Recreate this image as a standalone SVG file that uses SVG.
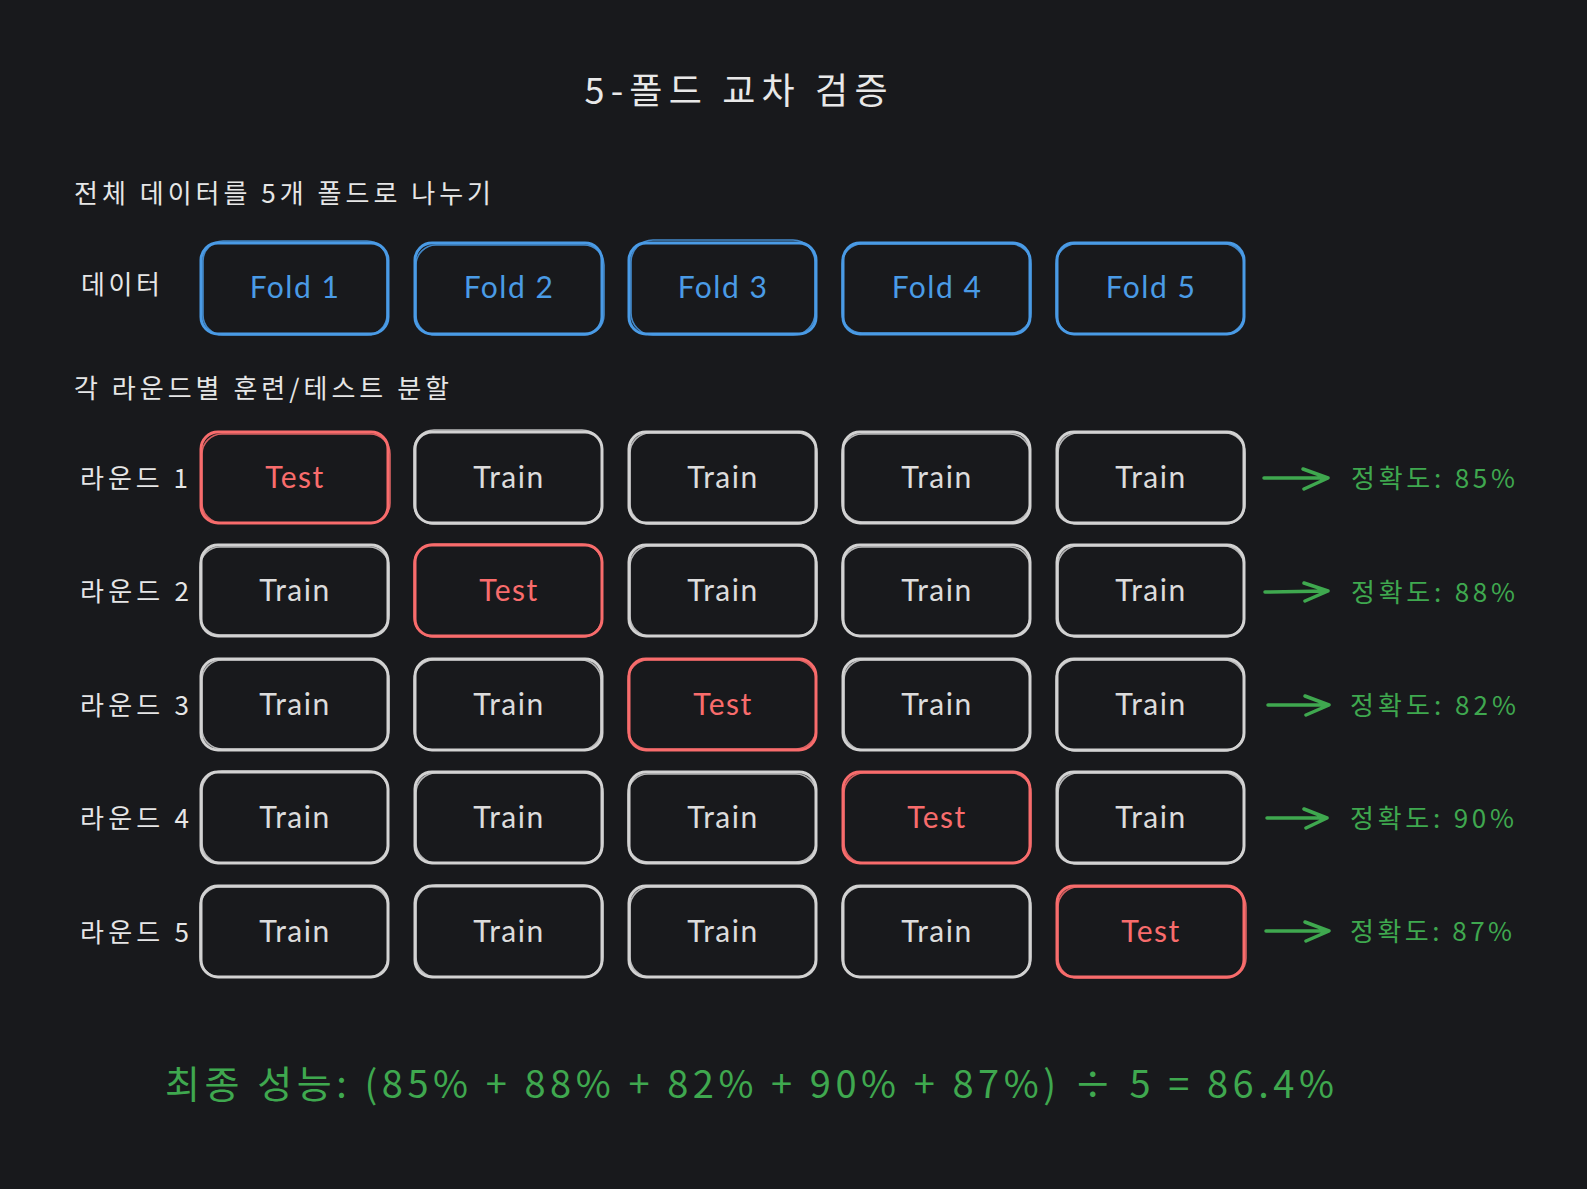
<svg xmlns="http://www.w3.org/2000/svg" width="1587" height="1189" viewBox="0 0 1587 1189">
<style>
.bg{fill:#18191c}
.t{font-family:"Noto Sans CJK KR","Noto Sans",sans-serif;dominant-baseline:central}
.w{fill:#e8e8e8}
.lbl{font-size:26px;fill:#e6e6e6}
.box{fill:none;stroke-width:3;stroke-linecap:round}
.box2{fill:none;stroke-width:1.6;opacity:.85}
.blue{stroke:#4a9be6}
.red{stroke:#f86c6c}
.gray{stroke:#d2d2d2}
.bt{font-family:"Lato","Noto Sans",sans-serif;font-size:30px;letter-spacing:1.5px;text-anchor:middle;dominant-baseline:central}
.tb{fill:#4a9be6}
.tr{fill:#f86c6c}
.tg{fill:#dcdcdc}
.green{fill:#3fa84f}
.arr{fill:none;stroke:#3fa84f;stroke-width:3.5;stroke-linecap:round;stroke-linejoin:round}
</style>
<rect class="bg" x="0" y="0" width="1587" height="1189"/>

<g id="title"><text class="t w" x="736" y="88" font-size="36" text-anchor="middle" textLength="303" lengthAdjust="spacing">5-폴드 교차 검증</text></g>
<g id="subtitle1"><text class="t lbl" x="74" y="191" textLength="417" lengthAdjust="spacing">전체 데이터를 5개 폴드로 나누기</text></g>
<g id="label-data"><text class="t lbl" x="81" y="282" textLength="79" lengthAdjust="spacing">데이터</text></g>
<g id="subtitle2"><text class="t lbl" x="74" y="386" textLength="375" lengthAdjust="spacing">각 라운드별 훈련/테스트 분할</text></g>

<g id="round-labels">
<text class="t lbl" x="80" y="476" textLength="108" lengthAdjust="spacing">라운드 1</text>
<text class="t lbl" x="80" y="589" textLength="109" lengthAdjust="spacing">라운드 2</text>
<text class="t lbl" x="80" y="703" textLength="109" lengthAdjust="spacing">라운드 3</text>
<text class="t lbl" x="80" y="816" textLength="109" lengthAdjust="spacing">라운드 4</text>
<text class="t lbl" x="80" y="930" textLength="109" lengthAdjust="spacing">라운드 5</text>
</g>

<!-- Data row -->
<g id="fold1"><rect class="box blue" x="201" y="243" width="187" height="91" rx="17"/><rect class="box2 blue" x="203" y="241" width="184" height="94" rx="20"/><text class="bt tb" x="295" y="286">Fold 1</text></g>
<g id="fold2"><rect class="box blue" x="415" y="243" width="187" height="91" rx="17"/><rect class="box2 blue" x="416" y="245" width="188" height="90" rx="20"/><text class="bt tb" x="509" y="286">Fold 2</text></g>
<g id="fold3"><rect class="box blue" x="629" y="243" width="187" height="91" rx="17"/><rect class="box2 blue" x="631" y="240" width="184" height="95" rx="22"/><text class="bt tb" x="723" y="286">Fold 3</text></g>
<g id="fold4"><rect class="box blue" x="843" y="243" width="187" height="91" rx="17"/><rect class="box2 blue" x="842" y="244" width="189" height="89" rx="20"/><text class="bt tb" x="937" y="286">Fold 4</text></g>
<g id="fold5"><rect class="box blue" x="1057" y="243" width="187" height="91" rx="17"/><rect class="box2 blue" x="1056" y="244" width="188" height="90" rx="20"/><text class="bt tb" x="1151" y="286">Fold 5</text></g>

<!-- Round 1 -->
<g id="r1c1"><rect class="box red" x="201" y="432" width="187" height="91" rx="17"/><rect class="box2 red" x="202" y="434" width="188" height="89" rx="20"/><text class="bt tr" x="295" y="476">Test</text></g>
<g id="r1c2"><rect class="box gray" x="415" y="432" width="187" height="91" rx="17"/><rect class="box2 gray" x="414" y="430" width="188" height="94" rx="20"/><text class="bt tg" x="509" y="476">Train</text></g>
<g id="r1c3"><rect class="box gray" x="629" y="432" width="187" height="91" rx="17"/><rect class="box2 gray" x="630" y="433" width="187" height="91" rx="20"/><text class="bt tg" x="723" y="476">Train</text></g>
<g id="r1c4"><rect class="box gray" x="843" y="432" width="187" height="91" rx="17"/><rect class="box2 gray" x="842" y="434" width="188" height="88" rx="20"/><text class="bt tg" x="937" y="476">Train</text></g>
<g id="r1c5"><rect class="box gray" x="1057" y="432" width="187" height="91" rx="17"/><rect class="box2 gray" x="1058" y="433" width="187" height="91" rx="20"/><text class="bt tg" x="1151" y="476">Train</text></g>

<!-- Round 2 -->
<g id="r2c1"><rect class="box gray" x="201" y="545" width="187" height="91" rx="17"/><rect class="box2 gray" x="200" y="547" width="189" height="88" rx="20"/><text class="bt tg" x="295" y="589">Train</text></g>
<g id="r2c2"><rect class="box red" x="415" y="545" width="187" height="91" rx="17"/><rect class="box2 red" x="414" y="544" width="188" height="93" rx="20"/><text class="bt tr" x="509" y="589">Test</text></g>
<g id="r2c3"><rect class="box gray" x="629" y="545" width="187" height="91" rx="17"/><rect class="box2 gray" x="630" y="546" width="187" height="90" rx="20"/><text class="bt tg" x="723" y="589">Train</text></g>
<g id="r2c4"><rect class="box gray" x="843" y="545" width="187" height="91" rx="17"/><rect class="box2 gray" x="842" y="547" width="188" height="89" rx="20"/><text class="bt tg" x="937" y="589">Train</text></g>
<g id="r2c5"><rect class="box gray" x="1057" y="545" width="187" height="91" rx="17"/><rect class="box2 gray" x="1058" y="546" width="186" height="91" rx="20"/><text class="bt tg" x="1151" y="589">Train</text></g>

<!-- Round 3 -->
<g id="r3c1"><rect class="box gray" x="201" y="659" width="187" height="91" rx="17"/><rect class="box2 gray" x="202" y="660" width="187" height="89" rx="20"/><text class="bt tg" x="295" y="703">Train</text></g>
<g id="r3c2"><rect class="box gray" x="415" y="659" width="187" height="91" rx="17"/><rect class="box2 gray" x="414" y="660" width="187" height="90" rx="20"/><text class="bt tg" x="509" y="703">Train</text></g>
<g id="r3c3"><rect class="box red" x="629" y="659" width="187" height="91" rx="17"/><rect class="box2 red" x="628" y="660" width="188" height="89" rx="20"/><text class="bt tr" x="723" y="703">Test</text></g>
<g id="r3c4"><rect class="box gray" x="843" y="659" width="187" height="91" rx="17"/><rect class="box2 gray" x="844" y="660" width="186" height="90" rx="20"/><text class="bt tg" x="937" y="703">Train</text></g>
<g id="r3c5"><rect class="box gray" x="1057" y="659" width="187" height="91" rx="17"/><rect class="box2 gray" x="1056" y="660" width="188" height="91" rx="20"/><text class="bt tg" x="1151" y="703">Train</text></g>

<!-- Round 4 -->
<g id="r4c1"><rect class="box gray" x="201" y="772" width="187" height="91" rx="17"/><rect class="box2 gray" x="202" y="771" width="186" height="92" rx="20"/><text class="bt tg" x="295" y="816">Train</text></g>
<g id="r4c2"><rect class="box gray" x="415" y="772" width="187" height="91" rx="17"/><rect class="box2 gray" x="416" y="773" width="187" height="90" rx="20"/><text class="bt tg" x="509" y="816">Train</text></g>
<g id="r4c3"><rect class="box gray" x="629" y="772" width="187" height="91" rx="17"/><rect class="box2 gray" x="628" y="774" width="188" height="88" rx="20"/><text class="bt tg" x="723" y="816">Train</text></g>
<g id="r4c4"><rect class="box red" x="843" y="772" width="187" height="91" rx="17"/><rect class="box2 red" x="844" y="773" width="187" height="90" rx="20"/><text class="bt tr" x="937" y="816">Test</text></g>
<g id="r4c5"><rect class="box gray" x="1057" y="772" width="187" height="91" rx="17"/><rect class="box2 gray" x="1058" y="773" width="186" height="91" rx="20"/><text class="bt tg" x="1151" y="816">Train</text></g>

<!-- Round 5 -->
<g id="r5c1"><rect class="box gray" x="201" y="886" width="187" height="91" rx="17"/><rect class="box2 gray" x="200" y="887" width="188" height="90" rx="20"/><text class="bt tg" x="295" y="930">Train</text></g>
<g id="r5c2"><rect class="box gray" x="415" y="886" width="187" height="91" rx="17"/><rect class="box2 gray" x="416" y="885" width="187" height="92" rx="20"/><text class="bt tg" x="509" y="930">Train</text></g>
<g id="r5c3"><rect class="box gray" x="629" y="886" width="187" height="91" rx="17"/><rect class="box2 gray" x="630" y="887" width="186" height="90" rx="20"/><text class="bt tg" x="723" y="930">Train</text></g>
<g id="r5c4"><rect class="box gray" x="843" y="886" width="187" height="91" rx="17"/><rect class="box2 gray" x="842" y="887" width="189" height="90" rx="20"/><text class="bt tg" x="937" y="930">Train</text></g>
<g id="r5c5"><rect class="box red" x="1057" y="886" width="187" height="91" rx="17"/><rect class="box2 red" x="1058" y="887" width="188" height="91" rx="20"/><text class="bt tr" x="1151" y="930">Test</text></g>

<!-- Connectors -->
<g id="connectors">
<path class="arr" d="M1264 478 L1327 478 M1303 469 L1328 478 L1304 489"/>
<path class="arr" d="M1265 592 L1327 591 M1304 583 L1328 591 L1305 601"/>
<path class="arr" d="M1268 705 L1328 705 M1305 696 L1329 705 L1306 715"/>
<path class="arr" d="M1267 818 L1326 818 M1304 809 L1327 818 L1306 828"/>
<path class="arr" d="M1266 931 L1328 931 M1305 922 L1329 931 L1306 941"/>
</g>

<g id="accuracy">
<text class="t green" x="1351" y="476" font-size="26" textLength="164" lengthAdjust="spacing">정확도: 85%</text>
<text class="t green" x="1351" y="590" font-size="26" textLength="164" lengthAdjust="spacing">정확도: 88%</text>
<text class="t green" x="1350" y="703" font-size="26" textLength="166" lengthAdjust="spacing">정확도: 82%</text>
<text class="t green" x="1350" y="816" font-size="26" textLength="164" lengthAdjust="spacing">정확도: 90%</text>
<text class="t green" x="1350" y="929" font-size="26" textLength="162" lengthAdjust="spacing">정확도: 87%</text>
</g>

<g id="final"><text class="t green" x="165" y="1081" font-size="38" textLength="1169" lengthAdjust="spacing">최종 성능: (85% + 88% + 82% + 90% + 87%) ÷ 5 = 86.4%</text></g>
</svg>
